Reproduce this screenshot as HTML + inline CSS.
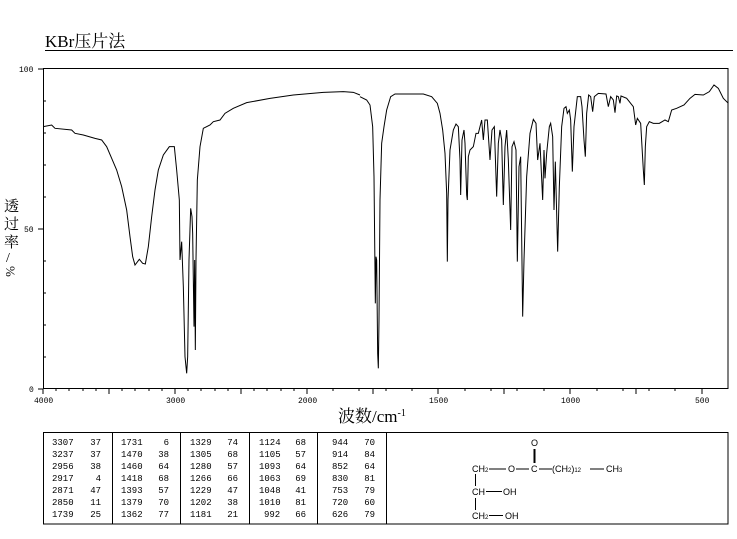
<!DOCTYPE html>
<html><head><meta charset="utf-8"><style>
body{margin:0;background:#fff;}
svg{display:block}
.t{font-family:"Liberation Mono",monospace;font-size:9px;fill:#000}
.s{font-family:"Liberation Sans",sans-serif;font-size:10px;fill:#000}
</style></head><body>
<svg width="737" height="539" xmlns="http://www.w3.org/2000/svg">
<rect width="737" height="539" fill="#fff"/>
<text x="45" y="47" font-family="Liberation Serif,'Noto Serif CJK SC',serif" font-size="17">KBr压片法</text>
<line x1="45" y1="50.5" x2="733" y2="50.5" stroke="#000"/>
<rect x="43.5" y="68.5" width="684.5" height="320" fill="none" stroke="#000"/>
<g stroke="#000">
<line x1="38" y1="69" x2="43" y2="69"/><line x1="38" y1="229" x2="43" y2="229"/><line x1="38" y1="389" x2="43" y2="389"/>
<line x1="43" y1="101" x2="46" y2="101"/><line x1="43" y1="133" x2="46" y2="133"/><line x1="43" y1="165" x2="46" y2="165"/><line x1="43" y1="197" x2="46" y2="197"/><line x1="43" y1="261" x2="46" y2="261"/><line x1="43" y1="293" x2="46" y2="293"/><line x1="43" y1="325" x2="46" y2="325"/><line x1="43" y1="357" x2="46" y2="357"/>
</g>
<g stroke="#000">
<line x1="43" y1="389" x2="43" y2="394"/><line x1="109" y1="389" x2="109" y2="394"/><line x1="175" y1="389" x2="175" y2="394"/><line x1="241" y1="389" x2="241" y2="394"/><line x1="307" y1="389" x2="307" y2="394"/><line x1="373" y1="389" x2="373" y2="394"/><line x1="438" y1="389" x2="438" y2="394"/><line x1="504" y1="389" x2="504" y2="394"/><line x1="570" y1="389" x2="570" y2="394"/><line x1="636" y1="389" x2="636" y2="394"/><line x1="702" y1="389" x2="702" y2="394"/>
<line x1="56" y1="389" x2="56" y2="391"/><line x1="69" y1="389" x2="69" y2="391"/><line x1="83" y1="389" x2="83" y2="391"/><line x1="96" y1="389" x2="96" y2="391"/><line x1="122" y1="389" x2="122" y2="391"/><line x1="135" y1="389" x2="135" y2="391"/><line x1="149" y1="389" x2="149" y2="391"/><line x1="162" y1="389" x2="162" y2="391"/><line x1="188" y1="389" x2="188" y2="391"/><line x1="201" y1="389" x2="201" y2="391"/><line x1="215" y1="389" x2="215" y2="391"/><line x1="228" y1="389" x2="228" y2="391"/><line x1="254" y1="389" x2="254" y2="391"/><line x1="267" y1="389" x2="267" y2="391"/><line x1="281" y1="389" x2="281" y2="391"/><line x1="294" y1="389" x2="294" y2="391"/><line x1="333" y1="389" x2="333" y2="391"/><line x1="359" y1="389" x2="359" y2="391"/><line x1="386" y1="389" x2="386" y2="391"/><line x1="412" y1="389" x2="412" y2="391"/><line x1="465" y1="389" x2="465" y2="391"/><line x1="491" y1="389" x2="491" y2="391"/><line x1="517" y1="389" x2="517" y2="391"/><line x1="544" y1="389" x2="544" y2="391"/><line x1="597" y1="389" x2="597" y2="391"/><line x1="623" y1="389" x2="623" y2="391"/><line x1="649" y1="389" x2="649" y2="391"/><line x1="675" y1="389" x2="675" y2="391"/>
</g>
<g class="t" font-size="8">
<text x="19" y="72" font-size="8">100</text><text x="24" y="232" font-size="8">50</text><text x="29" y="392" font-size="8">0</text>
<text x="34" y="403" font-size="8">4000</text><text x="166" y="403" font-size="8">3000</text><text x="298" y="403" font-size="8">2000</text><text x="429" y="403" font-size="8">1500</text><text x="561" y="403" font-size="8">1000</text><text x="695" y="403" font-size="8">500</text>
</g>
<g font-family="'Noto Serif CJK SC',serif" font-size="15">
<text x="4" y="211">透</text><text x="4" y="229">过</text><text x="4" y="247">率</text>
<text x="6" y="262" font-family="Liberation Serif,serif" font-size="14">/</text>
<text x="0" y="0" font-family="Liberation Serif,serif" font-size="13" transform="translate(6,266) rotate(90)">%</text>
</g>
<text x="338" y="422" font-family="Liberation Serif,'Noto Serif CJK SC',serif" font-size="17">波数/cm<tspan font-size="10" dy="-6">-1</tspan></text>
<g transform="translate(40,60) scale(0.33333)" fill="none" stroke="#000" stroke-width="1" vector-effect="non-scaling-stroke">
<polyline vector-effect="non-scaling-stroke" points="10,200 35,195 45,205 95,210 105,220 130,225 165,235 185,240 200,260 215,295 230,330 245,380 260,450 270,530 278,590 285,615 298,598 308,610 316,612 325,560 335,470 345,390 355,330 370,285 388,260 403,260 410,330 418,420 420,600 425,545 430,680 435,890 440,940 443,890 447,600 452,445 456,470 458,520 462,800 464,600 466,870 468,600 472,360 480,260 490,205 510,195 520,185 540,180 555,160 580,145 620,128 690,115 760,105 850,97 910,95 940,97 960,105"/>
</g>
<g transform="translate(360,60) scale(0.33333)" fill="none" stroke="#000">
<polyline vector-effect="non-scaling-stroke" points="0,110 20,120 30,135 38,200 42,350 46,730 48,590 50,600 53,880 55,925 57,780 60,420 65,250 72,200 80,150 92,110 105,102 190,102 215,110 232,130 240,160 248,210 255,280 260,400 262,605 264,420 270,270 280,210 288,192 295,200 300,300 302,405 306,240 312,210 315,250 320,405 322,420 325,290 330,270 340,260 348,220 355,220 360,200 365,180 370,240 375,180 382,180 390,300 396,210 403,200 410,410 415,250 420,210 425,240 430,435 435,260 440,210 445,300 452,510 456,260 462,245 468,270 472,605 477,320 482,290 488,770 492,600 500,350 510,220 520,178 528,190 533,300 540,250 548,420 552,270 555,355 560,280 568,200 572,190 578,230 582,450 586,305 593,575 598,380 605,200 612,145 618,140 622,160 628,150 632,180 637,335 642,200 652,110 662,110 666,140 672,240 676,290 680,160 686,105 692,110 698,155 703,110 715,100 738,102 745,140 752,110 760,120 765,158 770,108 775,110 780,130 783,108 800,115 820,140 827,195 832,175 842,190 850,330 853,375 856,260 860,200 868,185 880,190 898,190 915,180 925,185 935,150 950,145 972,135 990,115 1005,103 1030,105 1048,95 1062,75 1075,85 1090,115 1105,130"/>
</g>
<rect x="43.5" y="432.5" width="684.5" height="91.5" fill="none" stroke="#000"/>
<g stroke="#000"><line x1="112.5" y1="432" x2="112.5" y2="524"/><line x1="180.5" y1="432" x2="180.5" y2="524"/><line x1="249.5" y1="432" x2="249.5" y2="524"/><line x1="317.5" y1="432" x2="317.5" y2="524"/><line x1="386.5" y1="432" x2="386.5" y2="524"/></g>
<g class="t">
<text x="52" y="445">3307</text><text x="52" y="457">3237</text><text x="52" y="469">2956</text><text x="52" y="481">2917</text><text x="52" y="493">2871</text><text x="52" y="505">2850</text><text x="52" y="517">1739</text>
<g text-anchor="end"><text x="101" y="445">37</text><text x="101" y="457">37</text><text x="101" y="469">38</text><text x="101" y="481">4</text><text x="101" y="493">47</text><text x="101" y="505">11</text><text x="101" y="517">25</text></g>
<text x="121" y="445">1731</text><text x="121" y="457">1470</text><text x="121" y="469">1460</text><text x="121" y="481">1418</text><text x="121" y="493">1393</text><text x="121" y="505">1379</text><text x="121" y="517">1362</text>
<g text-anchor="end"><text x="169" y="445">6</text><text x="169" y="457">38</text><text x="169" y="469">64</text><text x="169" y="481">68</text><text x="169" y="493">57</text><text x="169" y="505">70</text><text x="169" y="517">77</text></g>
<text x="190" y="445">1329</text><text x="190" y="457">1305</text><text x="190" y="469">1280</text><text x="190" y="481">1266</text><text x="190" y="493">1229</text><text x="190" y="505">1202</text><text x="190" y="517">1181</text>
<g text-anchor="end"><text x="238" y="445">74</text><text x="238" y="457">68</text><text x="238" y="469">57</text><text x="238" y="481">66</text><text x="238" y="493">47</text><text x="238" y="505">38</text><text x="238" y="517">21</text></g>
<text x="259" y="445">1124</text><text x="259" y="457">1105</text><text x="259" y="469">1093</text><text x="259" y="481">1063</text><text x="259" y="493">1048</text><text x="259" y="505">1010</text><text x="264" y="517">992</text>
<g text-anchor="end"><text x="306" y="445">68</text><text x="306" y="457">57</text><text x="306" y="469">64</text><text x="306" y="481">69</text><text x="306" y="493">41</text><text x="306" y="505">81</text><text x="306" y="517">66</text></g>
<text x="332" y="445">944</text><text x="332" y="457">914</text><text x="332" y="469">852</text><text x="332" y="481">830</text><text x="332" y="493">753</text><text x="332" y="505">720</text><text x="332" y="517">626</text>
<g text-anchor="end"><text x="375" y="445">70</text><text x="375" y="457">84</text><text x="375" y="469">64</text><text x="375" y="481">81</text><text x="375" y="493">79</text><text x="375" y="505">60</text><text x="375" y="517">79</text></g>
</g>
<g font-family="Liberation Sans,sans-serif" font-size="9">
<text x="531" y="446">O</text>
<text x="472" y="472">CH<tspan font-size="6">2</tspan></text>
<text x="508" y="472">O</text>
<text x="531" y="472">C</text>
<text x="552" y="472">(CH<tspan font-size="6">2</tspan>)<tspan font-size="6">12</tspan></text>
<text x="606" y="472">CH<tspan font-size="6">3</tspan></text>
<text x="472" y="495">CH</text><text x="503" y="495">OH</text>
<text x="472" y="519">CH<tspan font-size="6">2</tspan></text><text x="505" y="519">OH</text>
</g>
<g stroke="#000">
<line x1="534.5" y1="449" x2="534.5" y2="463" stroke-width="2"/>
<line x1="489" y1="469" x2="506" y2="469"/><line x1="516" y1="469" x2="529" y2="469"/><line x1="539" y1="469" x2="552" y2="469"/><line x1="590" y1="469" x2="604" y2="469"/>
<line x1="475.5" y1="474" x2="475.5" y2="486"/><line x1="486" y1="491.5" x2="502" y2="491.5"/>
<line x1="475.5" y1="498" x2="475.5" y2="510"/><line x1="489" y1="515.5" x2="503" y2="515.5"/>
</g>
</svg>
</body></html>
